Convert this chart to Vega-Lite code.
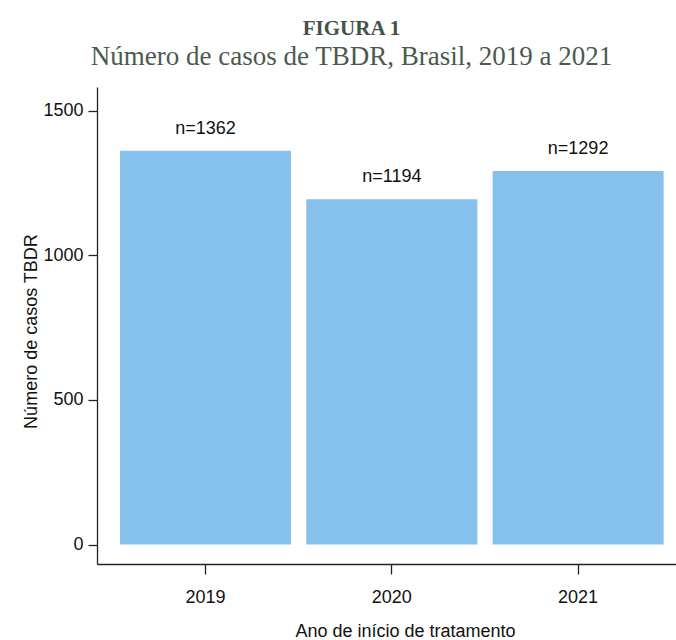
{
  "$schema": "https://vega.github.io/schema/vega-lite/v6.json",
  "autosize": "none",
  "width": 579,
  "height": 477,
  "padding": {"left": 97, "top": 87, "right": 0, "bottom": 76},
  "background": "white",
  "config": {
    "view": {"stroke": null},
    "font": "Liberation Sans, Arial, sans-serif"
  },
  "title": {
    "text": "FIGURA 1",
    "subtitle": "Número de casos de TBDR, Brasil, 2019 a 2021",
    "anchor": "middle",
    "frame": "group",
    "dx": -35,
    "offset": 17,
    "font": "Liberation Serif",
    "fontSize": 21,
    "fontWeight": "bold",
    "color": "#44524a",
    "subtitleFont": "Liberation Serif",
    "subtitleFontSize": 27,
    "subtitleColor": "#4b5a4f",
    "subtitlePadding": 5
  },
  "data": {
    "values": [
      {"ano": "2019", "casos": 1362, "rotulo": "n=1362"},
      {"ano": "2020", "casos": 1194, "rotulo": "n=1194"},
      {"ano": "2021", "casos": 1292, "rotulo": "n=1292"}
    ]
  },
  "encoding": {
    "x": {
      "field": "ano",
      "type": "ordinal",
      "scale": {"paddingInner": 0.082, "paddingOuter": 0.095, "align": 0.65},
      "axis": {
        "title": "Ano de início de tratamento",
        "labelAngle": 0,
        "labelFont": "Liberation Sans, Arial, sans-serif",
        "labelFontSize": 18,
        "labelColor": "#111",
        "labelBaseline": "alphabetic",
        "labelPadding": 28,
        "tickSize": 10,
        "tickColor": "#222",
        "tickWidth": 1.3,
        "domainColor": "#222",
        "domainWidth": 1.3,
        "titleFont": "Liberation Sans, Arial, sans-serif",
        "titleFontSize": 18,
        "titleFontWeight": "normal",
        "titleColor": "#111",
        "titleBaseline": "alphabetic",
        "titleX": 308,
        "titleY": 72
      }
    },
    "y": {
      "field": "casos",
      "type": "quantitative",
      "scale": {"domain": [-67, 1582], "nice": false, "zero": false},
      "axis": {
        "title": "Número de casos TBDR",
        "values": [0, 500, 1000, 1500],
        "format": "d",
        "grid": false,
        "labelFont": "Liberation Sans, Arial, sans-serif",
        "labelFontSize": 18,
        "labelColor": "#111",
        "labelPadding": 5,
        "tickSize": 9,
        "tickColor": "#222",
        "tickWidth": 1.3,
        "domainColor": "#222",
        "domainWidth": 1.3,
        "titleFont": "Liberation Sans, Arial, sans-serif",
        "titleFontSize": 18,
        "titleFontWeight": "normal",
        "titleColor": "#111",
        "titleBaseline": "alphabetic",
        "titleX": -61,
        "titleY": 244
      }
    }
  },
  "layer": [
    {
      "mark": {"type": "bar", "color": "#85c1eb"},
      "encoding": {"y2": {"datum": 0}}
    },
    {
      "mark": {
        "type": "text",
        "baseline": "alphabetic",
        "dy": -17,
        "fontSize": 18,
        "color": "#111",
        "font": "Liberation Sans, Arial, sans-serif"
      },
      "encoding": {"text": {"field": "rotulo"}}
    }
  ]
}
